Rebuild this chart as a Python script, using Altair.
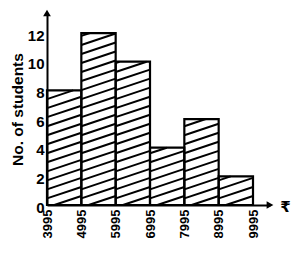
import altair as alt
import pandas as pd

# data
lows = [3995, 4995, 5995, 6995, 7995, 8995]
highs = [4995, 5995, 6995, 7995, 8995, 9995]
counts = [8, 12, 10, 4, 6, 2]
tick_values = [3995, 4995, 5995, 6995, 7995, 8995, 9995]
y_ticks = [0, 2, 4, 6, 8, 10, 12]

df = pd.DataFrame({"lo": lows, "hi": highs, "n": counts})

X_MAX = 10490
Y_MAX = 13.4
RISE = 0.8
GAP = 0.63
FONT = "Liberation Sans"

xs = alt.Scale(domain=[3995, X_MAX], nice=False, zero=False)
ys = alt.Scale(domain=[0, Y_MAX], nice=False)

base = alt.Chart(df)

hatch = base.transform_calculate(
    k="sequence(0, 30)"
).transform_flatten(["k"]).transform_calculate(
    c=f"-{RISE} + datum.k * {GAP}"
).transform_calculate(
    y0="max(datum.c, 0)",
    y1=f"min(datum.c + {RISE}, datum.n)",
).transform_calculate(
    x0=f"datum.lo + (datum.y0 - datum.c) / {RISE} * (datum.hi - datum.lo)",
    x1=f"datum.lo + (datum.y1 - datum.c) / {RISE} * (datum.hi - datum.lo)",
).transform_filter("datum.y1 > datum.y0").mark_rule(
    color="black", strokeWidth=2
).encode(
    x=alt.X("x0:Q", scale=xs),
    x2="x1:Q",
    y=alt.Y("y0:Q", scale=ys),
    y2="y1:Q",
)

bars = base.mark_rect(fill=None, stroke="black", strokeWidth=2.2).encode(
    x=alt.X(
        "lo:Q",
        scale=xs,
        axis=alt.Axis(
            values=tick_values,
            tickCount=50,
            format="d",
            labelAngle=-90,
            labelAlign="right",
            labelBaseline="middle",
            labelFont=FONT,
            labelFontWeight="bold",
            labelFontSize=13,
            labelColor="black",
            labelPadding=4,
            ticks=False,
            grid=False,
            domainColor="black",
            domainWidth=2,
            title="₹",
            titleFont="DejaVu Sans",
            titleFontWeight="bold",
            titleFontSize=15,
            titleColor="black",
            titleAngle=0,
            titleX=238,
            titleY=1,
            titleAlign="center",
            titleBaseline="middle",
            labelOverlap=False,
            labelFlush=False,
        ),
    ),
    x2="hi:Q",
    y=alt.Y(
        "n:Q",
        scale=ys,
        axis=alt.Axis(
            values=y_ticks,
            tickCount=50,
            format="d",
            labelFont=FONT,
            labelFontWeight="bold",
            labelFontSize=15,
            labelColor="black",
            labelPadding=3,
            labelOffset=2,
            labelOverlap=False,
            ticks=False,
            grid=False,
            domainColor="black",
            domainWidth=2,
            title="No. of students",
            titleFont=FONT,
            titleFontWeight="bold",
            titleFontSize=15.5,
            titleColor="black",
            titlePadding=2,
        ),
    ),
    y2=alt.datum(0),
)

arrows_df = pd.DataFrame({"ax": [3995, X_MAX], "ay": [Y_MAX, 0], "shape": ["triangle-up", "triangle-right"]})
arrows = alt.Chart(arrows_df).mark_point(filled=True, color="black", size=60, opacity=1).encode(
    x=alt.X("ax:Q", scale=xs),
    y=alt.Y("ay:Q", scale=ys),
    shape=alt.Shape("shape:N", scale=None),
)

chart = alt.layer(hatch, bars, arrows).properties(
    width=223,
    height=192,
    autosize=alt.AutoSizeParams(type="none"),
    padding={"left": 47, "top": 13, "right": 30, "bottom": 58},
    background="white",
).configure_view(stroke=None).configure_axis(labelOverlap=False)

chart.save("out.html", embed_options={"renderer": "svg", "actions": False})
